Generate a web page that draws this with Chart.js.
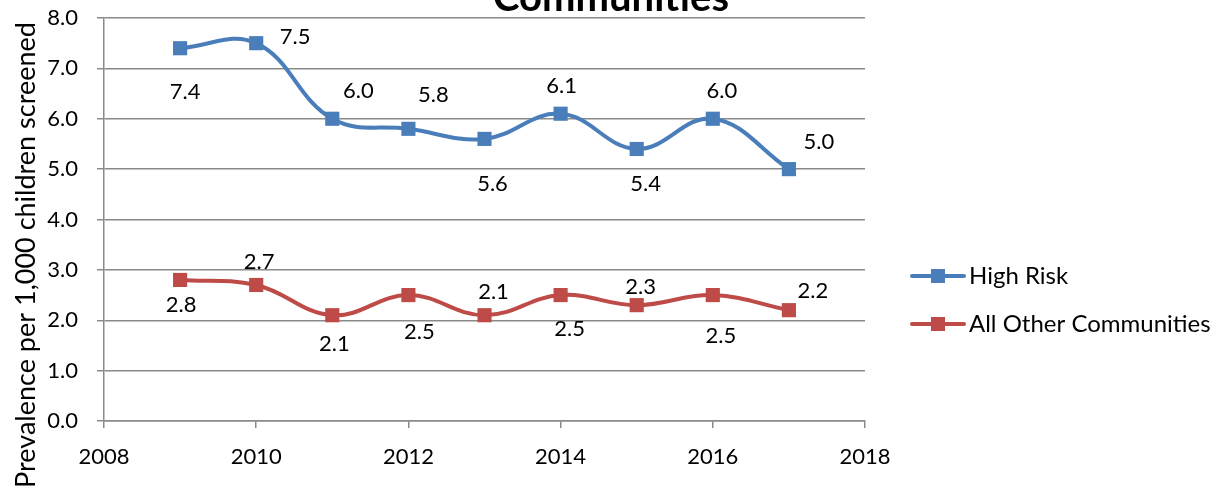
<!DOCTYPE html>
<html>
<head>
<meta charset="utf-8">
<script src="https://cdn.jsdelivr.net/npm/chart.js@4.4.1/dist/chart.umd.min.js"></script>
<style>
  html, body { margin: 0; padding: 0; background: #fff; }
  #wrap { width: 1218px; height: 493px; }
</style>
</head>
<body>
<div id="wrap"><canvas id="chart" width="1218" height="493"></canvas></div>
<script>
const years = [2009, 2010, 2011, 2012, 2013, 2014, 2015, 2016, 2017];
const highRisk = [7.4, 7.5, 6.0, 5.8, 5.6, 6.1, 5.4, 6.0, 5.0];
const otherCommunities = [2.8, 2.7, 2.1, 2.5, 2.1, 2.5, 2.3, 2.5, 2.2];
const xTicks = [2008, 2010, 2012, 2014, 2016, 2018];
const yTicks = [0, 1, 2, 3, 4, 5, 6, 7, 8];
const seriesNames = ["High Risk", "All Other Communities"];
const chartTitle = "Communities";
const yTitle = "Prevalence per 1,000 children screened";

// label placement (pixels from the marker), as in the original sheet
const labelOffsets = [
    [[5, 44], [39, -6], [26, -28], [25, -34], [8, 45], [1, -28], [9, 35], [9, -28], [30, -27]],
    [[1, 25], [3, -23], [2, 29], [11, 37], [9, -23], [9, 34], [4, -18], [8, 41], [24, -19]]
];

const colors = ["#4A7EBB", "#BE4B48"];
const gridColor = "#8a8a8a";
const font = "Lato";

function makeSwatch(color) {
    const c = document.createElement("canvas");
    c.width = 86; c.height = 16;
    const g = c.getContext("2d");
    g.strokeStyle = color;
    g.lineWidth = 4;
    g.lineCap = "round";
    g.beginPath();
    g.moveTo(32, 8);
    g.lineTo(84, 8);
    g.stroke();
    g.fillStyle = color;
    g.fillRect(51, 1, 14, 14);
    return c;
}
const swatches = colors.map(makeSwatch);

const dataLabels = {
    id: "dataLabels",
    afterDatasetsDraw(chart) {
        const ctx = chart.ctx;
        ctx.save();
        ctx.font = "22px " + font;
        ctx.fillStyle = "#000";
        ctx.textAlign = "center";
        ctx.textBaseline = "middle";
        chart.data.datasets.forEach((ds, di) => {
            chart.getDatasetMeta(di).data.forEach((pt, i) => {
                const [dx, dy] = labelOffsets[di][i];
                ctx.fillText(ds.data[i].y.toFixed(1), pt.x + dx, pt.y + dy);
            });
        });
        ctx.restore();
    }
};

const extraText = {
    id: "extraText",
    afterDraw(chart) {
        const ctx = chart.ctx;
        ctx.save();
        ctx.fillStyle = "#000";
        ctx.textAlign = "center";
        ctx.textBaseline = "alphabetic";
        ctx.font = "bold 40px " + font;
        ctx.fillText(chartTitle, 611, 11);
        ctx.translate(26, 255);
        ctx.rotate(-Math.PI / 2);
        ctx.textBaseline = "middle";
        ctx.font = "27px " + font;
        ctx.fillText(yTitle, 0, 0);
        ctx.restore();
    }
};

const series = [highRisk, otherCommunities];

new Chart(document.getElementById("chart").getContext("2d"), {
    type: "line",
    data: {
        datasets: series.map((vals, k) => ({
            label: seriesNames[k],
            data: years.map((yr, i) => ({ x: yr, y: vals[i] })),
            borderColor: colors[k],
            backgroundColor: colors[k],
            borderWidth: 4,
            tension: 0.4,
            pointStyle: "rect",
            pointRadius: 10,
            pointBorderWidth: 0,
            pointBackgroundColor: colors[k],
            fill: false
        }))
    },
    plugins: [dataLabels, extraText],
    options: {
        responsive: false,
        animation: false,
        layout: { padding: { top: 18, left: 0, right: 0, bottom: 0 } },
        plugins: {
            title: { display: false },
            tooltip: { enabled: false },
            legend: {
                display: true,
                position: "right",
                align: "center",
                maxWidth: 353,
                title: { display: true, text: "", font: { size: 10 }, padding: { top: 77, bottom: 0 } },
                labels: {
                    usePointStyle: true,
                    pointStyleWidth: 68,
                    padding: 24,
                    color: "#000",
                    font: { family: font, size: 24 },
                    generateLabels(chart) {
                        return Chart.defaults.plugins.legend.labels.generateLabels(chart)
                            .map((l, i) => ({ ...l, pointStyle: swatches[i] }));
                    }
                }
            }
        },
        scales: {
            x: {
                type: "linear",
                min: xTicks[0],
                max: xTicks[xTicks.length - 1],
                afterBuildTicks: scale => { scale.ticks = xTicks.map(v => ({ value: v })); },
                afterFit: scale => { scale.height = 72; },
                ticks: {
                    color: "#000",
                    padding: 16,
                    maxRotation: 0,
                    font: { family: font, size: 22 },
                    callback: v => String(v)
                },
                grid: { drawOnChartArea: false, drawTicks: true, tickLength: 7, color: gridColor, lineWidth: 1.5 },
                border: { display: true, color: gridColor, width: 1.5 }
            },
            y: {
                min: yTicks[0],
                max: yTicks[yTicks.length - 1],
                afterBuildTicks: scale => { scale.ticks = yTicks.map(v => ({ value: v })); },
                afterFit: scale => {
                    scale.width = 104;
                    scale.paddingTop = 0;
                    scale.paddingBottom = 0;
                },
                ticks: {
                    color: "#000",
                    padding: 19,
                    font: { family: font, size: 22 },
                    callback: v => v.toFixed(1)
                },
                grid: { color: gridColor, lineWidth: 1.5, tickLength: 7 },
                border: { display: true, color: gridColor, width: 1.5 }
            }
        }
    }
});
</script>
</body>
</html>
